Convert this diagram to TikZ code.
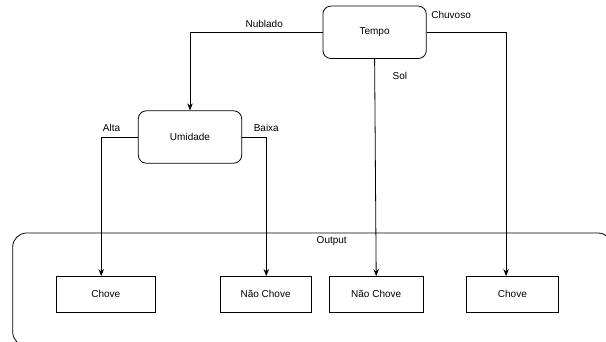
\documentclass[tikz,border=0pt]{standalone}
\usepackage{fontspec}
\setmainfont{Liberation Sans}
\usetikzlibrary{arrows.meta, positioning}

\begin{document}
\begin{tikzpicture}[
    x=1pt, y=1pt,
    decision/.style={draw, rounded corners=8pt, line width=0.8pt,
                     minimum width=103.4pt, minimum height=52.4pt, font=\fontsize{10}{12}\selectfont},
    leaf/.style={draw, line width=0.8pt, minimum height=35.5pt, inner sep=0pt,
                 font=\fontsize{10}{12}\selectfont},
    group/.style={draw, rounded corners=14pt, line width=0.8pt, inner sep=0pt},
    lbl/.style={font=\fontsize{10}{12}\selectfont, inner sep=1.5pt},
    arrow/.style={-{Stealth[length=7pt, width=5.5pt]}, line width=0.8pt},
]
\useasboundingbox (0,0) rectangle (606,342);

% output group
\node[group, minimum width=599.3pt, minimum height=113pt] (output) at (312.35,52.5) {};
\node[lbl, anchor=north] (loutput) at ([xshift=19.4pt, yshift=-2.4pt]output.north) {Output};

% decisions
\node[decision] (tempo) at (374.6,309.7) {Tempo};
\node[decision] (umidade) at (190,205) {Umidade};

% leaves
\node[leaf, minimum width=99.5pt] (chove1) at (105.75,47.75) {Chove};
\node[leaf, minimum width=90.8pt, right=63.9pt of chove1] (naochove1) {Não Chove};
\node[leaf, minimum width=94.4pt, right=17.2pt of naochove1] (naochove2) {Não Chove};
\node[leaf, minimum width=92pt, right=42.2pt of naochove2] (chove2) {Chove};

% branches
\draw[arrow] (tempo.west) -| (umidade.north)
  node[lbl, pos=0.22, above=3pt] (lnublado) {Nublado};
\draw[arrow] (tempo.east) -| ([xshift=-6.3pt]chove2.north);
\node[lbl, anchor=west] (lchuvoso) at ([shift={(3pt,17pt)}]tempo.east) {Chuvoso};
\draw[arrow] (tempo.south) -- (naochove2.north)
  node[lbl, pos=0.08, anchor=west, xshift=16pt] (lsol) {Sol};
\draw[arrow] (umidade.west) -| ([xshift=-4.5pt]chove1.north)
  node[lbl, pos=0.36, above=3pt] (lalta) {Alta};
\draw[arrow] (umidade.east) -| ([xshift=0.7pt]naochove1.north)
  node[lbl, pos=0.5, above=3pt] (lbaixa) {Baixa};
\end{tikzpicture}
\end{document}
